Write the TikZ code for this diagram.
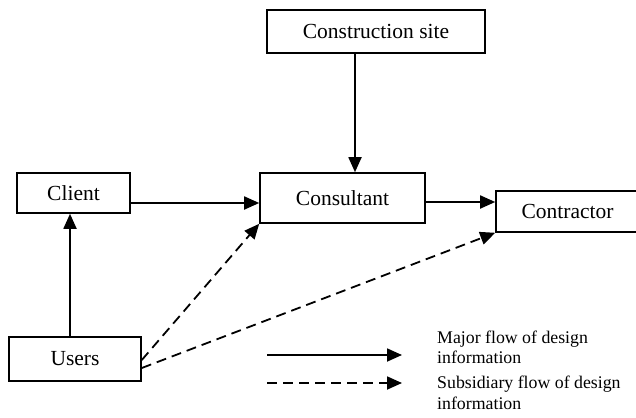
\documentclass[tikz,border=0pt]{standalone}
\usepackage{fontspec}
\setmainfont{Liberation Serif}
\usetikzlibrary{arrows.meta}
\begin{document}
\begin{tikzpicture}[x=1pt,y=-1pt,
  box/.style={draw, line width=1.6pt, rectangle, inner sep=0pt, font=\fontsize{21.5}{25}\selectfont},
  arr/.style={line width=1.8pt, -{Triangle[length=15pt,width=13pt]}},
  darr/.style={arr, dash pattern=on 10pt off 6pt},
  leg/.style={inner sep=0pt, font=\fontsize{17.8}{20.5}\selectfont}]
\useasboundingbox (0,0) rectangle (636,417);
\node[box, minimum width=218pt, minimum height=43pt] (site) at (376,31.5) {Construction site};
\node[box, minimum width=165pt, minimum height=50pt] (cons) at (342.5,198) {Consultant};
\node[box, minimum width=143pt, minimum height=41pt] (contr) at (567.5,211.5) {Contractor};
\node[box, minimum width=113pt, minimum height=40pt] (client) at (73.5,193) {Client};
\node[box, minimum width=132pt, minimum height=44pt] (users) at (75,359) {Users};
\draw[arr] ([xshift=-5pt]users.north) -- ([xshift=-5pt]users.north |- client.south);
\draw[arr] ([yshift=-10pt]client.east) -- ([yshift=-10pt]client.east -| cons.west);
\draw[arr] ([xshift=-21pt]site.south) -- ([xshift=-21pt]site.south |- cons.north);
\draw[arr] ([yshift=-4pt]cons.east) -- ([yshift=-4pt]cons.east -| contr.west);
\draw[darr] ([yshift=-1pt]users.east) -- (cons.south west);
\draw[darr] ([yshift=-9pt]users.east) -- (contr.south west);
\coordinate (l1s) at (267,355);
\coordinate (l1e) at (402,355);
\coordinate (l2s) at (267,383);
\coordinate (l2e) at (402,383);
\draw[arr] (l1s) -- (l1e);
\draw[darr] (l2s) -- (l2e);
\node[leg, anchor=base west] (t1a) at (437,343) {Major flow of design};
\node[leg, anchor=base west] (t1b) at (437,363) {information};
\node[leg, anchor=base west] (t2a) at (437,388) {Subsidiary flow of design};
\node[leg, anchor=base west] (t2b) at (437,409) {information};
\end{tikzpicture}
\end{document}
